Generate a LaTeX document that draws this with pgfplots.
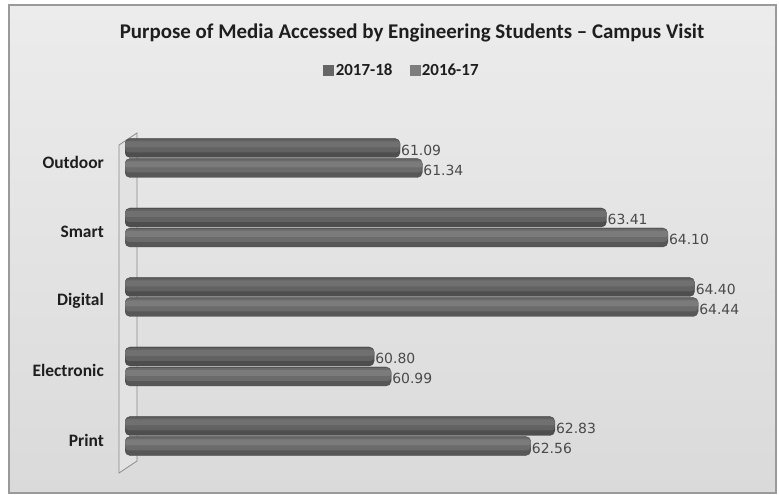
\documentclass[border=0pt]{standalone}
\usepackage{pgfplots}
\pgfplotsset{compat=1.18}
\usepackage{fontspec}
\setmainfont{Carlito}
\newfontfamily\dejavu{DejaVu Sans}
\definecolor{bgtop}{HTML}{ECECEC}
\definecolor{bgbot}{HTML}{DADADA}
\definecolor{framegray}{HTML}{9A9A9A}
\definecolor{wallfill}{HTML}{E2E2E2}
\definecolor{wallline}{HTML}{8A8A8A}
\definecolor{titlecol}{HTML}{1E1E1E}
\definecolor{labelcol}{HTML}{4A4A4A}
\definecolor{aLeg}{HTML}{666666}
\definecolor{bLeg}{HTML}{7E7E7E}
\definecolor{aBase}{HTML}{4E4E4E}
\definecolor{aMid}{HTML}{626262}
\definecolor{aHi}{HTML}{707070}
\definecolor{bBase}{HTML}{575757}
\definecolor{bMid}{HTML}{6B6B6B}
\definecolor{bHi}{HTML}{7B7B7B}
\pgfplotstableread{
c v
0 62.83
1 60.80
2 64.40
3 63.41
4 61.09
}\tabA
\pgfplotstableread{
c v
0 62.56
1 60.99
2 64.44
3 64.10
4 61.34
}\tabB
\begin{document}
\begin{tikzpicture}
\useasboundingbox (0,0) rectangle (779bp,495bp);
\fill[top color=bgtop,bottom color=bgbot] (9bp,2bp) rectangle (776bp,490bp);
\draw[framegray,line width=1.5bp] (9bp,2bp) rectangle (776bp,490bp);
\filldraw[fill=wallfill,draw=wallline,line width=0.8bp] (119bp,350bp) -- (137bp,362bp) -- (137bp,34bp) -- (119bp,22bp) -- cycle;
\node[font=\bfseries\fontsize{21}{23}\selectfont,text=titlecol] at (412bp,462bp) {Purpose of Media Accessed by Engineering Students -- Campus Visit};
\begin{axis}[
  at={(125bp,24.25bp)}, anchor=south west,
  scale only axis, width=667.5bp, height=347.5bp,
  x coord trafo/.code={\pgfmathparse{#1-58}},
  x coord inv trafo/.code={\pgfmathparse{#1+58}},
  xmin=58, xmax=65.5, ymin=-0.5, ymax=4.5,
  xbar,
  axis line style={draw=none},
  xtick=\empty,
  ytick={0,1,2,3,4},
  yticklabels={Print,Electronic,Digital,Smart,Outdoor},
  major tick length=0pt,
  yticklabel style={font=\bfseries\fontsize{17.5}{19}\selectfont,text=titlecol,inner sep=0pt,xshift=-21bp,yshift=-4bp},
  nodes near coords style={font=\dejavu\fontsize{14}{14}\selectfont,text=labelcol,anchor=west,inner sep=1bp,yshift=-2bp},
  /pgf/number format/.cd, fixed, fixed zerofill, precision=2, assume math mode=true,
  /pgfplots/.cd,
  legend style={at={(0.415,1.153)},anchor=center,draw=none,fill=none,
    font=\bfseries\fontsize{17}{18}\selectfont,text=titlecol,
    /tikz/every even column/.append style={column sep=15bp}},
  legend columns=2,
  legend image code/.code={\fill[#1] (1bp,-5bp) rectangle (11bp,5bp);},
]
\addlegendimage{aLeg}
\addlegendentry{2017-18}
\addlegendimage{bLeg}
\addlegendentry{2016-17}
% 2017-18 (upper bar of each pair)
\addplot[forget plot,bar width=19bp,bar shift=10bp,fill=aBase,draw=black!75,line width=0.3bp,rounded corners=5bp,
  point meta=explicit,nodes near coords]
  table[x=v,y=c,meta=v] {\tabA};
\addplot[forget plot,bar width=13bp,bar shift=12bp,fill=aMid,draw=none,rounded corners=4bp]
  table[x=v,y=c] {\tabA};
\addplot[forget plot,bar width=6bp,bar shift=13.5bp,fill=aHi,draw=none,rounded corners=2.5bp]
  table[x=v,y=c] {\tabA};
% 2016-17 (lower bar of each pair)
\addplot[forget plot,bar width=19bp,bar shift=-10bp,fill=bBase,draw=black!72,line width=0.3bp,rounded corners=5bp,
  point meta=explicit,nodes near coords]
  table[x=v,y=c,meta=v] {\tabB};
\addplot[forget plot,bar width=13bp,bar shift=-8bp,fill=bMid,draw=none,rounded corners=4bp]
  table[x=v,y=c] {\tabB};
\addplot[forget plot,bar width=6bp,bar shift=-6.5bp,fill=bHi,draw=none,rounded corners=2.5bp]
  table[x=v,y=c] {\tabB};
\end{axis}
\end{tikzpicture}
\end{document}
